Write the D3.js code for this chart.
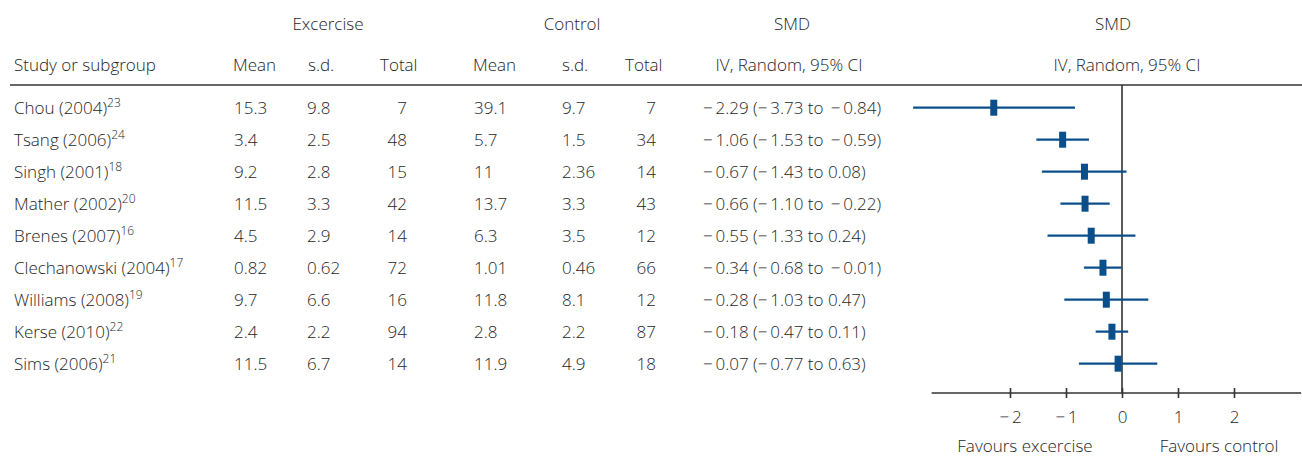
<!DOCTYPE html>
<html lang="en">
<head>
  <meta charset="UTF-8">
  <title>Forest plot: exercise vs control</title>
  <script src="https://cdn.jsdelivr.net/npm/d3@7"></script>
  <style>
    body { margin: 0; background: #fff; }
    svg text {
      font-family: "Open Sans", sans-serif;
      font-size: 17px;
      font-weight: 300;
      fill: #1e1e1e;
    }
    .rule { stroke: #333; stroke-width: 1.6; }
    .ci { stroke: #0b4f8a; stroke-width: 2.2; }
    .box { fill: #0b4f8a; }
  </style>
</head>
<body>
  <div id="chart"></div>
  <script>
    // Study data
    const studies = ["Chou (2004)", "Tsang (2006)", "Singh (2001)", "Mather (2002)", "Brenes (2007)",
      "Clechanowski (2004)", "Williams (2008)", "Kerse (2010)", "Sims (2006)"];
    const refs = ["23", "24", "18", "20", "16", "17", "19", "22", "21"];
    const exMean = ["15.3", "3.4", "9.2", "11.5", "4.5", "0.82", "9.7", "2.4", "11.5"];
    const exSd = ["9.8", "2.5", "2.8", "3.3", "2.9", "0.62", "6.6", "2.2", "6.7"];
    const exTotal = [7, 48, 15, 42, 14, 72, 16, 94, 14];
    const ctMean = ["39.1", "5.7", "11", "13.7", "6.3", "1.01", "11.8", "2.8", "11.9"];
    const ctSd = ["9.7", "1.5", "2.36", "3.3", "3.5", "0.46", "8.1", "2.2", "4.9"];
    const ctTotal = [7, 34, 14, 43, 12, 66, 12, 87, 18];
    const smd = [-2.29, -1.06, -0.67, -0.66, -0.55, -0.34, -0.28, -0.18, -0.07];
    const lower = [-3.73, -1.53, -1.43, -1.10, -1.33, -0.68, -1.03, -0.47, -0.77];
    const upper = [-0.84, -0.59, 0.08, -0.22, 0.24, -0.01, 0.47, 0.11, 0.63];
    const ticks = [-2, -1, 0, 1, 2];

    const W = 1302, H = 457;
    const rowTop = 107.7, rowStep = 32, base = 6.3;

    const svg = d3.select("#chart").append("svg")
      .attr("width", W)
      .attr("height", H);

    const rows = d3.range(studies.length);
    const y = d3.scaleLinear().domain([0, 1]).range([rowTop, rowTop + rowStep]);
    const x = d3.scaleLinear().domain([-3.4, 3.2]).range([931.6, 1301.2]);

    const minus = v => (v < 0 ? "\u2212\u2009" : "") + Math.abs(v).toFixed(2);

    // Headers
    const header = [
      { t: "Excercise", x: 328, y: 30, a: "middle" },
      { t: "Control", x: 572, y: 30, a: "middle" },
      { t: "SMD", x: 792, y: 30, a: "middle" },
      { t: "SMD", x: 1113, y: 30, a: "middle" },
      { t: "Study or subgroup", x: 14, y: 71, a: "start" },
      { t: "Mean", x: 233, y: 71, a: "start" },
      { t: "s.d.", x: 308, y: 71, a: "start" },
      { t: "Total", x: 380, y: 71, a: "start" },
      { t: "Mean", x: 473, y: 71, a: "start" },
      { t: "s.d.", x: 562, y: 71, a: "start" },
      { t: "Total", x: 625, y: 71, a: "start" },
      { t: "IV, Random, 95% CI", x: 789, y: 71, a: "middle" },
      { t: "IV, Random, 95% CI", x: 1127, y: 71, a: "middle" }
    ];
    svg.selectAll(".hdr")
      .data(header)
      .enter()
      .append("text")
      .attr("class", "hdr")
      .attr("x", d => d.x)
      .attr("y", d => d.y)
      .attr("text-anchor", d => d.a)
      .text(d => d.t);

    svg.append("line")
      .attr("class", "rule")
      .attr("x1", 10).attr("x2", W)
      .attr("y1", 85).attr("y2", 85);

    // Table columns
    const cols = [
      { v: exMean, x: 234, a: "start" },
      { v: exSd, x: 307, a: "start" },
      { v: exTotal, x: 407, a: "end" },
      { v: ctMean, x: 474, a: "start" },
      { v: ctSd, x: 562, a: "start" },
      { v: ctTotal, x: 656, a: "end" }
    ];

    const name = svg.selectAll(".name")
      .data(rows)
      .enter()
      .append("text")
      .attr("class", "name")
      .attr("x", 14)
      .attr("y", i => y(i) + base);
    name.append("tspan").text(i => studies[i]);
    name.append("tspan")
      .attr("dy", -7)
      .style("font-size", "12px")
      .text(i => refs[i]);

    cols.forEach(c => {
      svg.append("g").selectAll("text")
        .data(rows)
        .enter()
        .append("text")
        .attr("x", c.x)
        .attr("y", i => y(i) + base)
        .attr("text-anchor", c.a)
        .text(i => c.v[i]);
    });

    svg.append("g").selectAll("text")
      .data(rows)
      .enter()
      .append("text")
      .attr("x", 703)
      .attr("y", i => y(i) + base)
      .text(i => `${minus(smd[i])} (${minus(lower[i])} to ${upper[i] < 0 ? "\u2009" : ""}${minus(upper[i])})`);

    // Forest plot
    const axisY = 393;

    svg.append("line")
      .attr("class", "rule")
      .attr("x1", x(0)).attr("x2", x(0))
      .attr("y1", 85).attr("y2", axisY);

    const plot = svg.append("g");
    plot.selectAll(".ci")
      .data(rows)
      .enter()
      .append("line")
      .attr("class", "ci")
      .attr("x1", i => x(lower[i]))
      .attr("x2", i => x(upper[i]))
      .attr("y1", i => y(i))
      .attr("y2", i => y(i));

    plot.selectAll(".box")
      .data(rows)
      .enter()
      .append("rect")
      .attr("class", "box")
      .attr("x", i => x(smd[i]) - 3.5)
      .attr("y", i => y(i) - 8)
      .attr("width", 7)
      .attr("height", 16);

    const axis = svg.append("g")
      .attr("transform", `translate(0,${axisY})`)
      .call(d3.axisBottom(x)
        .tickValues(ticks)
        .tickSize(5)
        .tickFormat(d => (d < 0 ? "\u2212\u2009" : "") + Math.abs(d)));
    axis.select(".domain").remove();
    axis.append("line")
      .attr("class", "rule")
      .attr("x1", x.range()[0]).attr("x2", x.range()[1]);
    axis.selectAll(".tick line")
      .attr("y1", -5).attr("y2", 5)
      .attr("stroke", "#333")
      .attr("stroke-width", 1.6);
    axis.selectAll(".tick text")
      .attr("y", 30)
      .attr("dy", 0)
      .attr("fill", null)
      .style("font-size", "17px");
    axis.attr("font-size", null).attr("font-family", null);

    svg.append("text")
      .attr("x", 1025).attr("y", 452)
      .attr("text-anchor", "middle")
      .text("Favours excercise");
    svg.append("text")
      .attr("x", 1219).attr("y", 452)
      .attr("text-anchor", "middle")
      .text("Favours control");
  </script>
</body>
</html>
